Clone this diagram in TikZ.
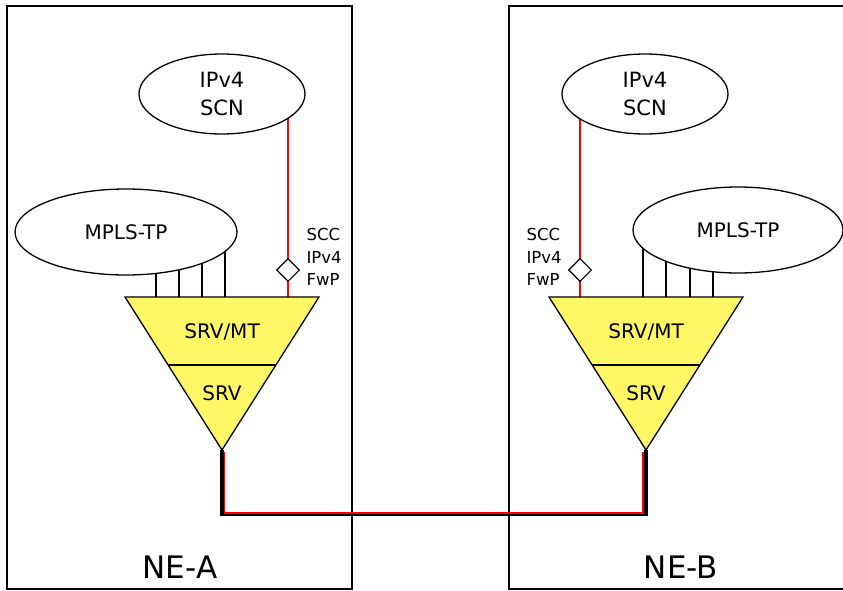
\documentclass[tikz,border=0pt]{standalone}
\usepackage{fontspec}
\setmainfont{DejaVu Sans}
\usetikzlibrary{shapes.geometric,backgrounds}

\begin{document}
\begin{tikzpicture}[x=1pt,y=-1pt]
    % --- Dimensions ---
    \def\BoxTop{6}        % top edge of the NE boxes
    \def\BoxBot{589}      % bottom edge of the NE boxes
    \def\TriTop{297}      % top edge of the adaptation triangles
    \def\TriMid{365}      % SRV/MT | SRV split
    \def\TriApex{450}     % tip of the triangles
    \def\LinkDrop{64}     % how far the link runs below the tips

    % --- Styles ---
    \tikzset{
        ne box/.style={draw=black, line width=2.4pt},
        ne label/.style={font=\fontsize{31}{34}\selectfont},
        cloud/.style={
            ellipse,
            draw=black,
            line width=1.3pt,
            fill=white,
            inner sep=0pt,
            align=center
        },
        scn cloud/.style={cloud, minimum width=166pt, minimum height=80pt,
            font=\fontsize{21}{28}\selectfont},
        tp cloud/.style={cloud, minimum height=86pt,
            font=\fontsize{20}{23}\selectfont},
        srv tri/.style={fill=yellow!60, draw=black, line width=1.3pt},
        srv text/.style={font=\fontsize{20}{23}\selectfont},
        fwp/.style={diamond, draw=black, fill=white, line width=1.1pt,
            inner sep=0pt, minimum size=23pt},
        fwp text/.style={font=\fontsize{16.5}{22.5}\selectfont, align=left, anchor=west},
        tp line/.style={draw=black, line width=1.3pt},
        scc line/.style={draw=red, line width=1.2pt},
        link black/.style={draw=black, line width=3.8pt},
        link red/.style={draw=red, line width=1.6pt}
    }

    \useasboundingbox (0,0) rectangle (843,591);

    % =========================================================
    % 1. NETWORK ELEMENTS
    % =========================================================
    \draw[ne box] (7,\BoxTop) rectangle (352,\BoxBot);
    \draw[ne box] (509,\BoxTop) rectangle (860,\BoxBot);

    \node[ne label] (neA) at (180,567) {NE-A};
    \node[ne label] (neB) at (681,567) {NE-B};

    % =========================================================
    % 2. SRV/MT ADAPTATION TRIANGLES
    % =========================================================
    % NE-A
    \coordinate (triA-l) at (125,\TriTop);
    \coordinate (triA-r) at (319,\TriTop);
    \coordinate (triA-b) at (222,\TriApex);
    \filldraw[srv tri] (triA-l) -- (triA-r) -- (triA-b) -- cycle;
    \draw[tp line] (168,\TriMid) -- (276,\TriMid);
    \node[srv text] (srvmtA) at (222,332) {SRV/MT};
    \node[srv text] (srvA) at (222,393) {SRV};

    % NE-B
    \coordinate (triB-l) at (549,\TriTop);
    \coordinate (triB-r) at (743,\TriTop);
    \coordinate (triB-b) at (646,\TriApex);
    \filldraw[srv tri] (triB-l) -- (triB-r) -- (triB-b) -- cycle;
    \draw[tp line] (592,\TriMid) -- (700,\TriMid);
    \node[srv text] (srvmtB) at (646,332) {SRV/MT};
    \node[srv text] (srvB) at (646,393) {SRV};

    % =========================================================
    % 3. CLOUDS (MPLS-TP and IPv4 SCN)
    % =========================================================
    \node[scn cloud] (scnA) at (222,94) {IPv4\\SCN};
    \node[scn cloud] (scnB) at (645,94) {IPv4\\SCN};
    \node[tp cloud, minimum width=222pt] (mplsA) at (126,232) {MPLS-TP};
    \node[tp cloud, minimum width=210pt] (mplsB) at (738,230) {MPLS-TP};

    % SCC IPv4 forwarding points
    \node[fwp] (sccA) at (288,270) {};
    \node[fwp] (sccB) at (580,270) {};
    \node[fwp text] (sccLblA) at (303,257) {SCC\\IPv4\\FwP};
    \node[fwp text] (sccLblB) at (523,257) {SCC\\IPv4\\FwP};

    % =========================================================
    % 4. CONNECTIONS (kept behind the clouds and diamonds)
    % =========================================================
    \begin{scope}[on background layer]
        \foreach \dx in {30,53,76,99}
            \draw[tp line] ([xshift=\dx pt]mplsA.center) -- ([xshift=\dx pt]mplsA.center |- triA-l);
        \foreach \dx in {-95,-72,-48,-25}
            \draw[tp line] ([xshift=\dx pt]mplsB.center) -- ([xshift=\dx pt]mplsB.center |- triB-l);

        \draw[scc line] (scnA.center -| sccA) -- (sccA |- triA-l);
        \draw[scc line] (scnB.center -| sccB) -- (sccB |- triB-l);
    \end{scope}

    % Server layer link between NE-A and NE-B
    \draw[link black] (triA-b) -- ++(0,\LinkDrop) -| (triB-b);
    \draw[link red] ([xshift=2.4pt, yshift=-1.5pt]triA-b) -- ++(0,\LinkDrop-2.7) -| ([xshift=-2.8pt, yshift=-1.5pt]triB-b);

\end{tikzpicture}
\end{document}
